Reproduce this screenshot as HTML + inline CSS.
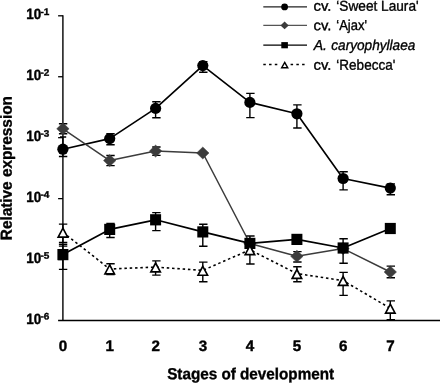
<!DOCTYPE html>
<html><head><meta charset="utf-8"><title>Chart</title>
<style>html,body{margin:0;padding:0;background:#fff;overflow:hidden}body{width:440px;height:383px;font-family:"Liberation Sans",sans-serif}</style>
</head><body>
<svg width="440" height="383" viewBox="0 0 440 383" style="display:block;will-change:transform;font-family:'Liberation Sans',sans-serif">
<rect width="440" height="383" fill="#fff"/>
<path d="M62.9 15.200000000000001V320.5" stroke="#000" stroke-width="1.4" fill="none"/>
<path d="M58.1 320.5H440" stroke="#000" stroke-width="1.4" fill="none"/>
<path d="M58.1 15.80H62.9" stroke="#000" stroke-width="1.3" fill="none"/>
<path d="M58.1 76.74H62.9" stroke="#000" stroke-width="1.3" fill="none"/>
<path d="M58.1 137.68H62.9" stroke="#000" stroke-width="1.3" fill="none"/>
<path d="M58.1 198.62H62.9" stroke="#000" stroke-width="1.3" fill="none"/>
<path d="M58.1 259.56H62.9" stroke="#000" stroke-width="1.3" fill="none"/>
<text transform="translate(26.30 19.30) rotate(-0.03)" font-size="14.8" font-weight="bold" textLength="15.00" lengthAdjust="spacingAndGlyphs" stroke="#000" stroke-width="0.4">10</text>
<text transform="translate(40.50 14.90) rotate(-0.03)" font-size="9.5" font-weight="bold" textLength="8.90" lengthAdjust="spacingAndGlyphs" stroke="#000" stroke-width="0.35">-1</text>
<text transform="translate(26.30 80.24) rotate(-0.03)" font-size="14.8" font-weight="bold" textLength="15.00" lengthAdjust="spacingAndGlyphs" stroke="#000" stroke-width="0.4">10</text>
<text transform="translate(40.50 75.84) rotate(-0.03)" font-size="9.5" font-weight="bold" textLength="8.90" lengthAdjust="spacingAndGlyphs" stroke="#000" stroke-width="0.35">-2</text>
<text transform="translate(26.30 141.18) rotate(-0.03)" font-size="14.8" font-weight="bold" textLength="15.00" lengthAdjust="spacingAndGlyphs" stroke="#000" stroke-width="0.4">10</text>
<text transform="translate(40.50 136.78) rotate(-0.03)" font-size="9.5" font-weight="bold" textLength="8.90" lengthAdjust="spacingAndGlyphs" stroke="#000" stroke-width="0.35">-3</text>
<text transform="translate(26.30 202.12) rotate(-0.03)" font-size="14.8" font-weight="bold" textLength="15.00" lengthAdjust="spacingAndGlyphs" stroke="#000" stroke-width="0.4">10</text>
<text transform="translate(40.50 197.72) rotate(-0.03)" font-size="9.5" font-weight="bold" textLength="8.90" lengthAdjust="spacingAndGlyphs" stroke="#000" stroke-width="0.35">-4</text>
<text transform="translate(26.30 263.06) rotate(-0.03)" font-size="14.8" font-weight="bold" textLength="15.00" lengthAdjust="spacingAndGlyphs" stroke="#000" stroke-width="0.4">10</text>
<text transform="translate(40.50 258.66) rotate(-0.03)" font-size="9.5" font-weight="bold" textLength="8.90" lengthAdjust="spacingAndGlyphs" stroke="#000" stroke-width="0.35">-5</text>
<text transform="translate(26.30 324.00) rotate(-0.03)" font-size="14.8" font-weight="bold" textLength="15.00" lengthAdjust="spacingAndGlyphs" stroke="#000" stroke-width="0.4">10</text>
<text transform="translate(40.50 319.60) rotate(-0.03)" font-size="9.5" font-weight="bold" textLength="8.90" lengthAdjust="spacingAndGlyphs" stroke="#000" stroke-width="0.35">-6</text>
<text transform="translate(63.00 350.90) rotate(-0.03)" font-size="15.2" font-weight="bold" text-anchor="middle" stroke="#000" stroke-width="0.4">0</text>
<text transform="translate(109.80 350.90) rotate(-0.03)" font-size="15.2" font-weight="bold" text-anchor="middle" stroke="#000" stroke-width="0.4">1</text>
<text transform="translate(155.70 350.90) rotate(-0.03)" font-size="15.2" font-weight="bold" text-anchor="middle" stroke="#000" stroke-width="0.4">2</text>
<text transform="translate(202.90 350.90) rotate(-0.03)" font-size="15.2" font-weight="bold" text-anchor="middle" stroke="#000" stroke-width="0.4">3</text>
<text transform="translate(250.00 350.90) rotate(-0.03)" font-size="15.2" font-weight="bold" text-anchor="middle" stroke="#000" stroke-width="0.4">4</text>
<text transform="translate(297.00 350.90) rotate(-0.03)" font-size="15.2" font-weight="bold" text-anchor="middle" stroke="#000" stroke-width="0.4">5</text>
<text transform="translate(343.20 350.90) rotate(-0.03)" font-size="15.2" font-weight="bold" text-anchor="middle" stroke="#000" stroke-width="0.4">6</text>
<text transform="translate(390.40 350.90) rotate(-0.03)" font-size="15.2" font-weight="bold" text-anchor="middle" stroke="#000" stroke-width="0.4">7</text>
<text transform="translate(167.20 379.30) rotate(-0.03)" font-size="16.0" font-weight="bold" textLength="166.90" lengthAdjust="spacingAndGlyphs" stroke="#000" stroke-width="0.35">Stages of development</text>
<text transform="translate(11.80 240.20) rotate(-90.03)" font-size="16.0" font-weight="bold" textLength="144.10" lengthAdjust="spacingAndGlyphs" stroke="#000" stroke-width="0.35">Relative expression</text>
<polyline points="62.90,149.20 109.70,138.60 155.60,108.40 202.80,65.60 249.90,102.40 296.90,113.80 343.10,178.50 390.30,188.10" stroke="#000" stroke-width="1.65" fill="none" stroke-linejoin="round"/>
<path d="M62.90 137.00V156.50M60.00 137.00H66.20M58.90 156.50H67.30" stroke="#000" stroke-width="1.4" fill="none"/>
<path d="M109.70 133.70V144.80M106.30 133.70H114.70M106.30 144.80H114.70" stroke="#000" stroke-width="1.4" fill="none"/>
<path d="M155.60 101.80V117.70M152.20 101.80H160.60M152.20 117.70H160.60" stroke="#000" stroke-width="1.4" fill="none"/>
<path d="M202.80 61.60V72.30M199.10 61.60H207.50M199.10 72.30H207.50" stroke="#000" stroke-width="1.4" fill="none"/>
<path d="M249.90 93.40V117.60M246.20 93.40H254.60M246.20 117.60H254.60" stroke="#000" stroke-width="1.4" fill="none"/>
<path d="M296.90 104.90V128.00M293.20 104.90H301.60M293.20 128.00H301.60" stroke="#000" stroke-width="1.4" fill="none"/>
<path d="M343.10 171.80V189.90M339.40 171.80H347.80M339.40 189.90H347.80" stroke="#000" stroke-width="1.4" fill="none"/>
<path d="M390.30 183.90V194.80M386.60 183.90H395.00M386.60 194.80H395.00" stroke="#000" stroke-width="1.4" fill="none"/>
<circle cx="62.90" cy="149.20" r="5.6" fill="#000"/>
<circle cx="109.70" cy="138.60" r="5.6" fill="#000"/>
<circle cx="155.60" cy="108.40" r="5.6" fill="#000"/>
<circle cx="202.80" cy="65.60" r="5.6" fill="#000"/>
<circle cx="249.90" cy="102.40" r="5.6" fill="#000"/>
<circle cx="296.90" cy="113.80" r="5.6" fill="#000"/>
<circle cx="343.10" cy="178.50" r="5.6" fill="#000"/>
<circle cx="390.30" cy="188.10" r="5.6" fill="#000"/>
<polyline points="62.90,128.80 109.70,160.60 155.60,151.10 202.80,153.00 249.90,243.50 296.90,256.30 343.10,248.60 390.30,272.00" stroke="#3c3c3c" stroke-width="1.5" fill="none" stroke-linejoin="round"/>
<path d="M62.90 123.80V133.80M58.90 123.80H67.30M58.90 133.80H67.30" stroke="#000" stroke-width="1.4" fill="none"/>
<path d="M109.70 155.50V165.60M106.30 155.50H114.70M106.30 165.60H114.70" stroke="#000" stroke-width="1.4" fill="none"/>
<path d="M155.60 147.00V155.40M152.20 147.00H160.60M152.20 155.40H160.60" stroke="#000" stroke-width="1.4" fill="none"/>
<path d="M296.90 251.60V262.00M293.20 251.60H301.60M293.20 262.00H301.60" stroke="#000" stroke-width="1.4" fill="none"/>
<path d="M390.30 266.10V277.70M386.60 266.10H395.00M386.60 277.70H395.00" stroke="#000" stroke-width="1.4" fill="none"/>
<path d="M62.90 122.80L69.10 128.80L62.90 134.80L56.70 128.80Z" fill="#3c3c3c" stroke="#3c3c3c" stroke-width="0.5" stroke-linejoin="round"/>
<path d="M109.70 154.60L115.90 160.60L109.70 166.60L103.50 160.60Z" fill="#3c3c3c" stroke="#3c3c3c" stroke-width="0.5" stroke-linejoin="round"/>
<path d="M155.60 145.10L161.80 151.10L155.60 157.10L149.40 151.10Z" fill="#3c3c3c" stroke="#3c3c3c" stroke-width="0.5" stroke-linejoin="round"/>
<path d="M202.80 147.00L209.00 153.00L202.80 159.00L196.60 153.00Z" fill="#3c3c3c" stroke="#3c3c3c" stroke-width="0.5" stroke-linejoin="round"/>
<path d="M249.90 237.50L256.10 243.50L249.90 249.50L243.70 243.50Z" fill="#3c3c3c" stroke="#3c3c3c" stroke-width="0.5" stroke-linejoin="round"/>
<path d="M296.90 250.30L303.10 256.30L296.90 262.30L290.70 256.30Z" fill="#3c3c3c" stroke="#3c3c3c" stroke-width="0.5" stroke-linejoin="round"/>
<path d="M343.10 242.60L349.30 248.60L343.10 254.60L336.90 248.60Z" fill="#3c3c3c" stroke="#3c3c3c" stroke-width="0.5" stroke-linejoin="round"/>
<path d="M390.30 266.00L396.50 272.00L390.30 278.00L384.10 272.00Z" fill="#3c3c3c" stroke="#3c3c3c" stroke-width="0.5" stroke-linejoin="round"/>
<polyline points="62.90,254.60 109.70,229.40 155.60,219.80 202.80,231.90 249.90,243.40 296.90,239.40 343.10,248.00 390.30,228.50" stroke="#000" stroke-width="1.7" fill="none" stroke-linejoin="round"/>
<path d="M62.90 244.20V269.40M58.90 244.20H67.30M58.90 269.40H67.30" stroke="#000" stroke-width="1.4" fill="none"/>
<path d="M109.70 223.50V237.50M106.30 223.50H114.70M106.30 237.50H114.70" stroke="#000" stroke-width="1.4" fill="none"/>
<path d="M155.60 212.60V230.60M152.20 212.60H160.60M152.20 230.60H160.60" stroke="#000" stroke-width="1.4" fill="none"/>
<path d="M202.80 224.20V246.30M199.10 224.20H207.50M199.10 246.30H207.50" stroke="#000" stroke-width="1.4" fill="none"/>
<path d="M249.90 236.00V248.00M246.20 236.00H254.60M246.20 248.00H254.60" stroke="#000" stroke-width="1.4" fill="none"/>
<path d="M343.10 238.70V263.20M339.40 238.70H347.80M339.40 263.20H347.80" stroke="#000" stroke-width="1.4" fill="none"/>
<rect x="57.40" y="249.00" width="11" height="11.2" fill="#000"/>
<rect x="104.20" y="223.80" width="11" height="11.2" fill="#000"/>
<rect x="150.10" y="214.20" width="11" height="11.2" fill="#000"/>
<rect x="197.30" y="226.30" width="11" height="11.2" fill="#000"/>
<rect x="244.40" y="237.80" width="11" height="11.2" fill="#000"/>
<rect x="291.40" y="233.80" width="11" height="11.2" fill="#000"/>
<rect x="337.60" y="242.40" width="11" height="11.2" fill="#000"/>
<rect x="384.80" y="222.90" width="11" height="11.2" fill="#000"/>
<path d="M58.90 246.1H67.30" stroke="#000" stroke-width="1.3"/>
<polyline points="62.90,232.30 109.70,269.00 155.60,267.10 202.80,270.40 249.90,249.80 296.90,273.60 343.10,280.60 390.30,308.30" stroke="#000" stroke-width="1.6" fill="none" stroke-dasharray="2.5 2.8" stroke-linejoin="round"/>
<path d="M62.90 224.10V242.40M58.90 224.10H67.30M58.90 242.40H67.30" stroke="#000" stroke-width="1.4" fill="none"/>
<path d="M109.70 263.70V274.50M106.30 263.70H114.70M106.30 274.50H114.70" stroke="#000" stroke-width="1.4" fill="none"/>
<path d="M155.60 260.90V275.10M152.20 260.90H160.60M152.20 275.10H160.60" stroke="#000" stroke-width="1.4" fill="none"/>
<path d="M202.80 262.10V281.80M199.10 262.10H207.50M199.10 281.80H207.50" stroke="#000" stroke-width="1.4" fill="none"/>
<path d="M249.90 246.00V264.00M246.20 246.00H254.60M246.20 264.00H254.60" stroke="#000" stroke-width="1.4" fill="none"/>
<path d="M296.90 266.80V281.80M293.20 266.80H301.60M293.20 281.80H301.60" stroke="#000" stroke-width="1.4" fill="none"/>
<path d="M343.10 272.40V295.40M339.40 272.40H347.80M339.40 295.40H347.80" stroke="#000" stroke-width="1.4" fill="none"/>
<path d="M390.30 300.90V319.60M386.60 300.90H395.00M386.60 319.60H395.00" stroke="#000" stroke-width="1.4" fill="none"/>
<path d="M62.90 228.20L67.65 237.10H58.15Z" fill="#fff" stroke="#000" stroke-width="1.65" stroke-linejoin="miter"/>
<path d="M109.70 264.90L114.45 273.80H104.95Z" fill="#fff" stroke="#000" stroke-width="1.65" stroke-linejoin="miter"/>
<path d="M155.60 263.00L160.35 271.90H150.85Z" fill="#fff" stroke="#000" stroke-width="1.65" stroke-linejoin="miter"/>
<path d="M202.80 266.30L207.55 275.20H198.05Z" fill="#fff" stroke="#000" stroke-width="1.65" stroke-linejoin="miter"/>
<path d="M249.90 245.70L254.65 254.60H245.15Z" fill="#fff" stroke="#000" stroke-width="1.65" stroke-linejoin="miter"/>
<path d="M296.90 269.50L301.65 278.40H292.15Z" fill="#fff" stroke="#000" stroke-width="1.65" stroke-linejoin="miter"/>
<path d="M343.10 276.50L347.85 285.40H338.35Z" fill="#fff" stroke="#000" stroke-width="1.65" stroke-linejoin="miter"/>
<path d="M390.30 304.20L395.05 313.10H385.55Z" fill="#fff" stroke="#000" stroke-width="1.65" stroke-linejoin="miter"/>
<path d="M263.3 6.9H307.0" stroke="#222" stroke-width="1.2"/>
<circle cx="284.6" cy="6.9" r="3.4" fill="#000"/>
<path d="M263.3 25.4H307.0" stroke="#555" stroke-width="1.2"/>
<path d="M284.6 21.599999999999998L288.70000000000005 25.4L284.6 29.2L280.5 25.4Z" fill="#3c3c3c"/>
<path d="M263.3 45.2H307.0" stroke="#000" stroke-width="1.3"/>
<rect x="281.3" y="42.1" width="6.6" height="6.2" fill="#000"/>
<path d="M263.3 64.5H280M290.6 64.5H305" stroke="#000" stroke-width="1.4" stroke-dasharray="2.5 3.25"/>
<path d="M284.70000000000005 62.4L287.70000000000005 67.7H281.70000000000005Z" fill="#fff" stroke="#000" stroke-width="1.45"/>
<text transform="translate(313.50 10.70) rotate(-0.03)" font-size="14.4" textLength="17.90" lengthAdjust="spacingAndGlyphs" stroke="#000" stroke-width="0.35">cv.</text>
<text transform="translate(336.30 10.70) rotate(-0.03)" font-size="14.4" textLength="82.30" lengthAdjust="spacingAndGlyphs" stroke="#000" stroke-width="0.35">‘Sweet Laura'</text>
<text transform="translate(313.50 30.30) rotate(-0.03)" font-size="14.4" textLength="17.90" lengthAdjust="spacingAndGlyphs" stroke="#000" stroke-width="0.35">cv.</text>
<text transform="translate(336.30 30.30) rotate(-0.03)" font-size="14.4" textLength="30.70" lengthAdjust="spacingAndGlyphs" stroke="#000" stroke-width="0.35">‘Ajax'</text>
<text transform="translate(313.50 69.70) rotate(-0.03)" font-size="14.4" textLength="17.90" lengthAdjust="spacingAndGlyphs" stroke="#000" stroke-width="0.35">cv.</text>
<text transform="translate(336.30 69.70) rotate(-0.03)" font-size="14.4" textLength="59.00" lengthAdjust="spacingAndGlyphs" stroke="#000" stroke-width="0.35">‘Rebecca'</text>
<text transform="translate(313.70 50.10) rotate(-0.03)" font-size="14.4" font-style="italic" textLength="13.30" lengthAdjust="spacingAndGlyphs" stroke="#000" stroke-width="0.35">A.</text>
<text transform="translate(331.30 50.10) rotate(-0.03)" font-size="14.4" font-style="italic" textLength="84.00" lengthAdjust="spacingAndGlyphs" stroke="#000" stroke-width="0.35">caryophyllaea</text>
</svg>
</body></html>
